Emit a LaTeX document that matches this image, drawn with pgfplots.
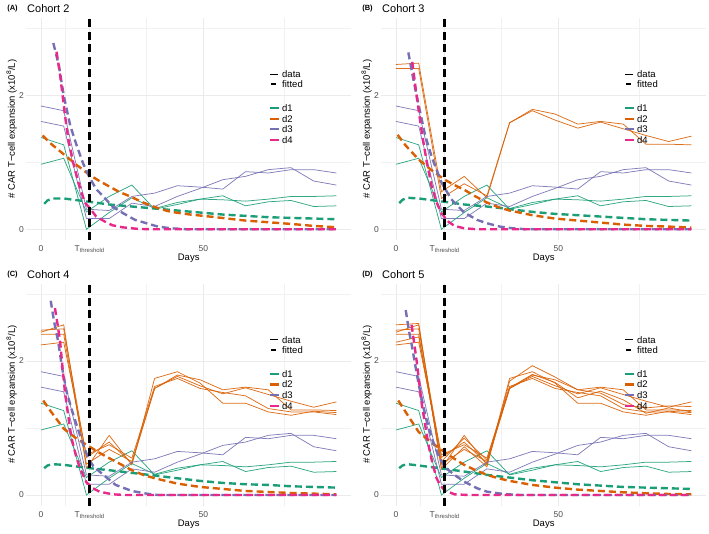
\documentclass[border=0pt]{standalone}
\usepackage{fontspec}
\setmainfont{Liberation Sans}
\usepackage{pgfplots}
\pgfplotsset{compat=1.18}
\usepackage{pgfplotstable}

\definecolor{cg}{HTML}{1B9E77}
\definecolor{co}{HTML}{D95F02}
\definecolor{cp}{HTML}{7570B3}
\definecolor{cpink}{HTML}{E7298A}
\definecolor{ticklab}{HTML}{4D4D4D}
\definecolor{gridc}{HTML}{EBEBEB}

% observed data: d1 (green) and d3 (purple), same in every cohort
\pgfplotstableread{
day g1 g2 p1 p2
0 1.37 0.97 1.84 1.61
7 1.26 1.06 1.77 1.54
14 0.00 0.26 0.30 0.16
21 0.25 0.49 0.28 0.16
28 0.47 0.66 0.49 0.39
35 0.31 0.30 0.54 0.34
42 0.40 0.37 0.65 0.49
49 0.45 0.45 0.63 0.61
56 0.44 0.50 0.60 0.74
63 0.42 0.35 0.86 0.79
70 0.45 0.41 0.84 0.89
77 0.49 0.43 0.89 0.92
84 0.49 0.34 0.89 0.72
91 0.50 0.35 0.84 0.66
}\common

% observed data: d2 (orange)
\pgfplotstableread{
day o1 o2 o3 o4 o5 o6
0 2.46 2.40 2.43 2.24 2.54 2.28
7 2.48 2.40 2.54 2.28 2.56 2.36
14 0.56 0.46 0.40 0.60 0.38 0.50
21 0.79 0.68 0.89 0.75 0.72 0.85
28 0.47 0.50 0.45 0.55 0.42 0.52
35 1.59 1.59 1.74 1.62 1.70 1.60
42 1.79 1.77 1.84 1.74 1.93 1.80
49 1.72 1.63 1.67 1.59 1.76 1.68
56 1.57 1.51 1.37 1.53 1.57 1.45
63 1.61 1.60 1.37 1.48 1.52 1.55
70 1.57 1.50 1.24 1.29 1.35 1.42
77 1.27 1.40 1.19 1.24 1.30 1.22
84 1.27 1.31 1.25 1.24 1.33 1.30
91 1.26 1.39 1.23 1.20 1.32 1.24
}\orange

\pgfplotsset{
  panel/.style={
    scale only axis, width=325pt, height=221.75pt,
    anchor=south west,
    xmin=-4.55, xmax=95.55, ymin=-0.16, ymax=3.15,
    xtick={0,15,50}, xticklabels={0,{T\textsubscript{threshold}},50},
    ytick={0,2}, yticklabels={0,2},
    minor xtick={7.5,32.5,75}, minor ytick={1,3},
    grid=both,
    major grid style={draw=gridc, line width=0.75pt},
    minor grid style={draw=gridc!70, line width=0.45pt},
    axis line style={draw=none},
    major tick length=0pt, minor tick length=0pt,
    tick label style={font=\fontsize{8.5}{10}\selectfont, text=ticklab},
    xticklabel style={anchor=base, yshift=-11.3pt, inner sep=0pt},
    yticklabel style={anchor=east, inner sep=0pt, xshift=-2.2pt},
    clip=true,
  },
  dataline/.style={line width=0.75pt, opacity=0.9},
  fitline/.style={line width=2.4pt, dash pattern=on 7pt off 4pt},
  vline/.style={black, line width=2.4pt, dash pattern=on 8pt off 4.5pt},
}

\newcommand{\panelannot}[4]{%
  \begin{scope}[shift={(#1pt,-#2pt)}]
    \node[font=\bfseries\fontsize{7.5}{8}\selectfont, inner sep=0pt] at (12.5pt,524pt) {(#3)};
    \node[font=\fontsize{11}{12}\selectfont, anchor=west, inner sep=0pt] at (27pt,524pt) {Cohort #4};
    \node[font=\fontsize{9.5}{11}\selectfont, rotate=90, inner sep=0pt] at (11.7pt,404pt) {\# CAR T−cell expansion (x10\textsuperscript{8}/L)};
    \node[font=\fontsize{9.5}{11}\selectfont, inner sep=0pt] at (188.7pt,274.7pt) {Days};
    \draw[black, line width=0.6pt] (270pt,459pt) -- (278pt,459pt);
    \node[font=\fontsize{9.5}{11}\selectfont, anchor=west, inner sep=0pt] at (282pt,459pt) {data};
    \draw[black, line width=2.3pt] (271pt,448.7pt) -- (276pt,448.7pt);
    \node[font=\fontsize{9.5}{11}\selectfont, anchor=west, inner sep=0pt] at (282pt,448.7pt) {fitted};
    \draw[cg, line width=2.3pt] (270pt,424.7pt) -- (279pt,424.7pt);
    \node[font=\fontsize{9.5}{11}\selectfont, anchor=west, inner sep=0pt] at (282pt,424.7pt) {d1};
    \draw[co, line width=2.3pt] (270pt,414.3pt) -- (279pt,414.3pt);
    \node[font=\fontsize{9.5}{11}\selectfont, anchor=west, inner sep=0pt] at (282pt,414.3pt) {d2};
    \draw[cp, line width=2.3pt] (270pt,403.7pt) -- (279pt,403.7pt);
    \node[font=\fontsize{9.5}{11}\selectfont, anchor=west, inner sep=0pt] at (282pt,403.7pt) {d3};
    \draw[cpink, line width=2.3pt] (270pt,393pt) -- (279pt,393pt);
    \node[font=\fontsize{9.5}{11}\selectfont, anchor=west, inner sep=0pt] at (282pt,393pt) {d4};
  \end{scope}%
}

\begin{document}
\begin{tikzpicture}
\useasboundingbox (0pt,0pt) rectangle (709pt,533pt);

% ---------------- (A) Cohort 2
\begin{axis}[panel, at={(26.2pt,293pt)}]
  \addplot[cg, dataline] table[x=day,y=g1]{\common};
  \addplot[cg, dataline] table[x=day,y=g2]{\common};
  \addplot[cp, dataline] table[x=day,y=p1]{\common};
  \addplot[cp, dataline] table[x=day,y=p2]{\common};
  \addplot[cg, fitline] coordinates {(1,0.38) (2,0.43) (3.5,0.46) (7,0.46) (15,0.41) (21,0.37) (28,0.34) (35,0.31) (42,0.28) (49,0.25) (56,0.22) (63,0.20) (70,0.18) (77,0.17) (84,0.16) (91,0.15)};
  \addplot[co, fitline] coordinates {(0.5,1.40) (3,1.28) (7,1.12) (11,0.96) (15,0.81) (18,0.72) (21,0.64) (24,0.56) (27.5,0.49) (31,0.41) (34,0.35) (37,0.30) (40,0.26) (46,0.22) (52,0.19) (63,0.13) (77,0.08) (84,0.05) (91,0.03)};
  \addplot[cp, fitline] coordinates {(3.8,2.78) (5.5,2.45) (7,2.0) (9,1.55) (11,1.25) (13,0.98) (15,0.77) (17,0.6) (19.2,0.49) (22,0.34) (25.3,0.24) (29,0.14) (32.5,0.09) (36,0.04) (40,0.015) (45,0) (91,0)};
  \addplot[cpink, fitline] coordinates {(4.8,2.65) (5.9,2.3) (7.4,1.7) (8.4,1.35) (9.9,1.0) (11.5,0.7) (13.5,0.40) (15.3,0.30) (17,0.19) (19.5,0.12) (22,0.06) (25,0.03) (30,0.005) (35,0) (91,0)};
  \addplot[vline] coordinates {(15,-0.16) (15,3.15)};
\end{axis}

% ---------------- (B) Cohort 3
\begin{axis}[panel, at={(381.2pt,293pt)}]
  \addplot[cg, dataline] table[x=day,y=g1]{\common};
  \addplot[cg, dataline] table[x=day,y=g2]{\common};
  \addplot[co, dataline] table[x=day,y=o1]{\orange};
  \addplot[co, dataline] table[x=day,y=o2]{\orange};
  \addplot[cp, dataline] table[x=day,y=p1]{\common};
  \addplot[cp, dataline] table[x=day,y=p2]{\common};
  \addplot[cg, fitline] coordinates {(1,0.39) (2,0.44) (3.5,0.47) (7,0.46) (15,0.41) (21,0.37) (28,0.34) (35,0.30) (42,0.26) (49,0.23) (56,0.21) (63,0.19) (70,0.17) (77,0.15) (84,0.14) (91,0.13)};
  \addplot[co, fitline] coordinates {(0.5,1.41) (3,1.25) (7,1.04) (11,0.88) (15,0.74) (18,0.66) (21,0.59) (24.5,0.49) (28,0.40) (31.5,0.33) (35,0.28) (42,0.21) (49,0.16) (56,0.13) (63,0.10) (70,0.07) (77,0.05) (84,0.04) (91,0.025)};
  \addplot[cp, fitline] coordinates {(3.8,2.64) (5.5,2.2) (7,1.85) (9,1.4) (11,1.08) (14,0.70) (17,0.45) (21,0.25) (25,0.14) (28,0.09) (32,0.04) (36,0.015) (40,0) (91,0)};
  \addplot[cpink, fitline] coordinates {(5,2.50) (6.4,1.98) (8,1.43) (9.5,1.0) (11,0.64) (12.5,0.40) (14,0.24) (16,0.12) (18,0.05) (21,0.015) (25,0) (91,0)};
  \addplot[vline] coordinates {(15,-0.16) (15,3.15)};
\end{axis}

% ---------------- (C) Cohort 4
\begin{axis}[panel, at={(26.2pt,27.3pt)}]
  \addplot[cg, dataline] table[x=day,y=g1]{\common};
  \addplot[cg, dataline] table[x=day,y=g2]{\common};
  \addplot[co, dataline] table[x=day,y=o1]{\orange};
  \addplot[co, dataline] table[x=day,y=o2]{\orange};
  \addplot[co, dataline] table[x=day,y=o3]{\orange};
  \addplot[co, dataline] table[x=day,y=o4]{\orange};
  \addplot[cp, dataline] table[x=day,y=p1]{\common};
  \addplot[cp, dataline] table[x=day,y=p2]{\common};
  \addplot[cg, fitline] coordinates {(1,0.40) (2,0.44) (3.5,0.46) (7,0.45) (15,0.40) (21,0.37) (28,0.33) (35,0.29) (42,0.25) (49,0.21) (56,0.18) (63,0.16) (70,0.15) (77,0.13) (84,0.12) (91,0.11)};
  \addplot[co, fitline] coordinates {(0.7,1.41) (3,1.25) (7,0.99) (11,0.84) (15,0.72) (18,0.63) (21,0.55) (24.5,0.46) (28,0.37) (31.5,0.30) (35,0.25) (42,0.17) (49,0.12) (56,0.09) (63,0.06) (70,0.045) (77,0.03) (84,0.02) (91,0.01)};
  \addplot[cp, fitline] coordinates {(3,2.90) (4,2.6) (5.3,2.29) (6.5,1.9) (7.9,1.54) (9.5,1.27) (11,1.04) (12.8,0.78) (14.6,0.54) (16,0.44) (18,0.35) (20.5,0.25) (23,0.15) (28,0.06) (32.5,0.02) (36,0) (91,0)};
  \addplot[cpink, fitline] coordinates {(4.3,2.79) (5.1,2.55) (5.9,2.29) (6.6,1.92) (7.4,1.53) (8.4,1.18) (9.4,0.85) (10.7,0.6) (12,0.40) (14,0.19) (16,0.10) (18,0.05) (22,0.01) (26,0) (91,0)};
  \addplot[vline] coordinates {(15,-0.16) (15,3.15)};
\end{axis}

% ---------------- (D) Cohort 5
\begin{axis}[panel, at={(381.2pt,27.3pt)}]
  \addplot[cg, dataline] table[x=day,y=g1]{\common};
  \addplot[cg, dataline] table[x=day,y=g2]{\common};
  \addplot[co, dataline] table[x=day,y=o1]{\orange};
  \addplot[co, dataline] table[x=day,y=o2]{\orange};
  \addplot[co, dataline] table[x=day,y=o3]{\orange};
  \addplot[co, dataline] table[x=day,y=o4]{\orange};
  \addplot[co, dataline] table[x=day,y=o5]{\orange};
  \addplot[co, dataline] table[x=day,y=o6]{\orange};
  \addplot[cp, dataline] table[x=day,y=p1]{\common};
  \addplot[cp, dataline] table[x=day,y=p2]{\common};
  \addplot[cg, fitline] coordinates {(1,0.40) (2,0.44) (3.5,0.46) (7,0.44) (15,0.39) (21,0.35) (28,0.30) (35,0.26) (42,0.22) (49,0.19) (56,0.16) (63,0.14) (70,0.12) (77,0.11) (84,0.10) (91,0.09)};
  \addplot[co, fitline] coordinates {(0.7,1.41) (4.3,1.14) (7,0.94) (11,0.78) (15,0.64) (18,0.54) (21,0.45) (24.5,0.37) (28,0.30) (31.5,0.25) (35,0.21) (42,0.15) (49,0.11) (56,0.08) (63,0.06) (70,0.04) (77,0.025) (84,0.015) (91,0.01)};
  \addplot[cp, fitline] coordinates {(3,2.76) (4,2.45) (5,2.2) (6,1.92) (7,1.65) (9,1.2) (11,0.85) (13,0.6) (15,0.42) (18,0.3) (21,0.2) (25,0.1) (28,0.05) (33,0.015) (38,0) (91,0)};
  \addplot[cpink, fitline] coordinates {(4.8,2.54) (5.6,2.27) (6.4,1.99) (7.2,1.66) (8,1.34) (9,1.04) (10,0.75) (11.2,0.48) (12.5,0.25) (13.7,0.14) (15,0.07) (18,0.01) (22,0) (91,0)};
  \addplot[vline] coordinates {(15,-0.16) (15,3.15)};
\end{axis}

\panelannot{0}{0}{A}{2}
\panelannot{355}{0}{B}{3}
\panelannot{0}{265.7}{C}{4}
\panelannot{355}{265.7}{D}{5}
\end{tikzpicture}
\end{document}
